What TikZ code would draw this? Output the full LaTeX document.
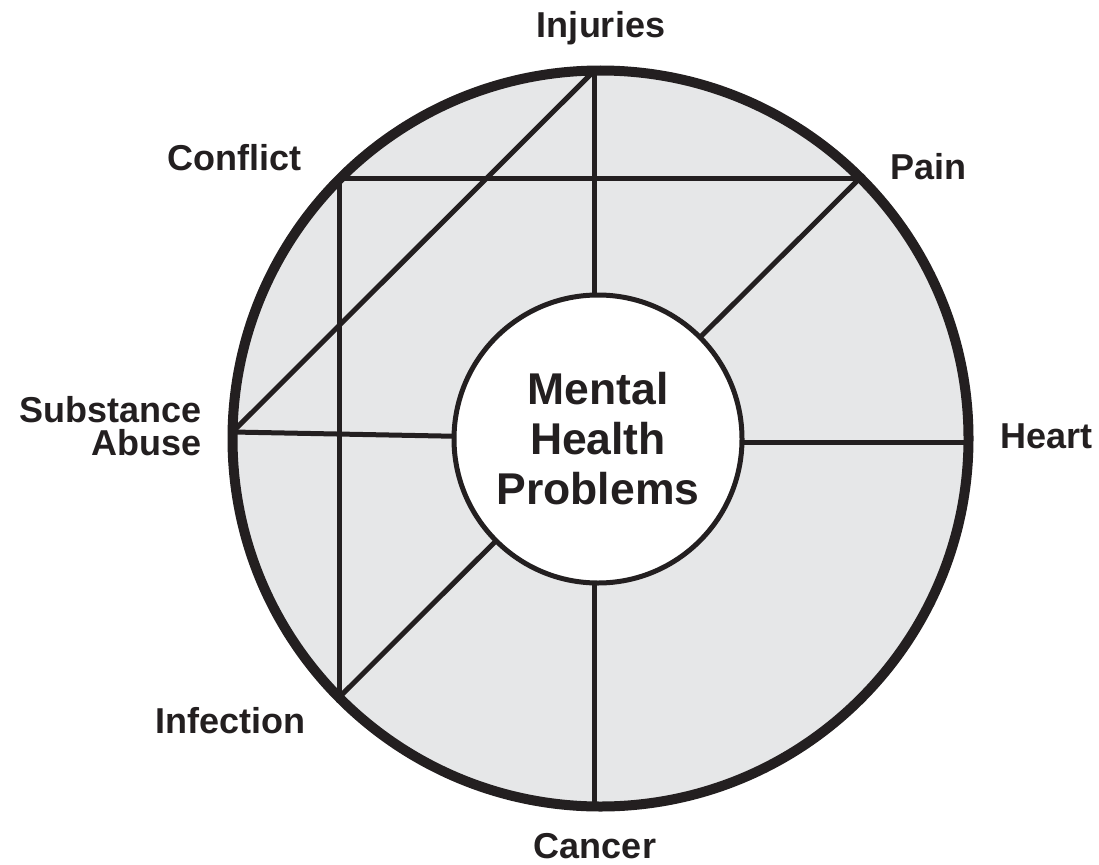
\documentclass[tikz,border=0pt]{standalone}
\usepackage{fontspec}
\setmainfont{Liberation Sans}
\definecolor{ringgray}{HTML}{E6E7E8}
\definecolor{ink}{HTML}{231F20}
\begin{document}
\begin{tikzpicture}[x=1pt,y=-1pt,
  outerring/.style={circle, draw=ink, fill=ringgray, line width=10pt, minimum size=736pt, inner sep=0pt},
  hub/.style={circle, draw=ink, fill=white, line width=5pt, minimum size=288pt, inner sep=0pt,
    align=center, text=ink, font=\fontsize{44.5}{50}\selectfont\bfseries},
  spoke/.style={draw=ink, line width=5pt},
  lbl/.style={text=ink, inner sep=0pt, font=\fontsize{36}{33}\selectfont\bfseries}]
\useasboundingbox (0,0) rectangle (1099,864);
\node[outerring] (ring) at (600.5,438.5) {};
\coordinate (inj) at (594,71);
\coordinate (conf) at (339.5,178);
\coordinate (pain) at (860,178);
\coordinate (sub) at (232.5,432);
\coordinate (heart) at (968.5,442);
\coordinate (inf) at (339.5,697);
\coordinate (canc) at (594,806);
\coordinate (hc) at (598,439);
% connectors
\draw[spoke] (inj) -- (inj |- hc);
\draw[spoke] (conf) -- (pain);
\draw[spoke] (conf) -- (inf);
\draw[spoke] (inj) -- (sub);
\draw[spoke] (pain) -- (hc);
\draw[spoke] (sub) -- (hc);
\draw[spoke] (heart) -- (heart -| hc);
\draw[spoke] (inf) -- (hc);
\draw[spoke] (canc) -- (canc |- hc);
\node[hub] (mhp) at (hc) {Mental\\Health\\Problems};
% labels
\node[lbl, anchor=base] (linj) at (601,38) {Injuries};
\node[lbl, anchor=base west] (lconf) at (167,170) {Conflict};
\node[lbl, anchor=base west] (lpain) at (890,179) {Pain};
\node[lbl, anchor=base east] (lsub) at (202,422) {Substance};
\node[lbl, anchor=base east] (labuse) at (202,455) {Abuse};
\node[lbl, anchor=base west] (lheart) at (1000,448) {Heart};
\node[lbl, anchor=base west] (linf) at (155,733) {Infection};
\node[lbl, anchor=base] (lcanc) at (595,858) {Cancer};
\end{tikzpicture}
\end{document}
